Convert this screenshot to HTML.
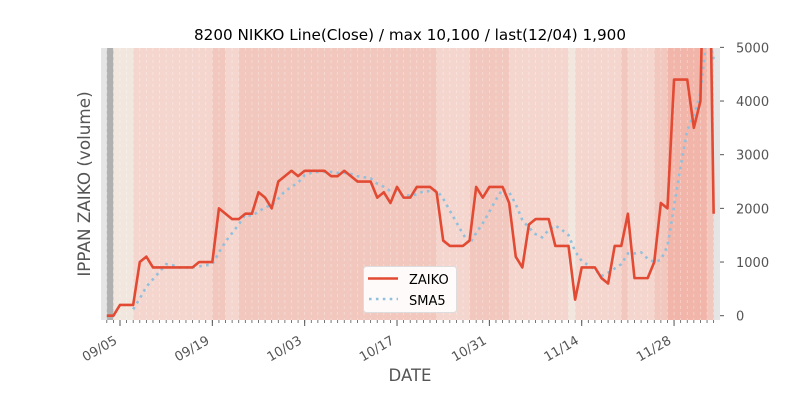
<!DOCTYPE html>
<html><head><meta charset="utf-8"><style>
body{margin:0;background:#fff;}
svg{display:block;font-family:"DejaVu Sans","Liberation Sans",sans-serif;}
</style></head><body>
<svg id="chart" width="800" height="400" viewBox="0 0 800 400" xmlns="http://www.w3.org/2000/svg">
<defs><clipPath id="plotclip"><rect x="101" y="48" width="619" height="272"/></clipPath></defs>
<text x="410" y="40" text-anchor="middle" font-size="15.2" fill="#000">8200 NIKKO Line(Close) / max 10,100 / last(12/04) 1,900</text>
<rect x="101" y="48" width="619" height="272" fill="#e5e5e5"/>
<g id="bands" clip-path="url(#plotclip)"></g>
<g id="grid"></g>
<g id="series" clip-path="url(#plotclip)"></g>
<g id="axes"></g>
<text transform="translate(90,184) rotate(-90)" text-anchor="middle" font-size="16.8" fill="#555">IPPAN ZAIKO (volume)</text>
<text x="410" y="381" text-anchor="middle" font-size="16.5" fill="#555">DATE</text>
<g>
<rect x="363.5" y="266.5" width="93" height="46" rx="3" fill="#fff" fill-opacity="0.9" stroke="#ddd"/>
<line x1="368" y1="278.5" x2="398" y2="278.5" stroke="#e24a33" stroke-width="2.6"/>
<text x="409" y="284" font-size="13" fill="#000">ZAIKO</text>
<line x1="369" y1="299" x2="398" y2="299" stroke="#92c0dc" stroke-width="2.6" stroke-dasharray="2.6,4.3"/>
<text x="409" y="305" font-size="13" fill="#000">SMA5</text>
</g>
</svg>
<script>
const startDate = [9, 3];
const zaiko = [0,0,200,200,200,1000,1100,900,900,900,900,900,900,900,1000,1000,1000,2000,1900,1800,1800,1900,1900,2300,2200,2000,2500,2600,2700,2600,2700,2700,2700,2700,2600,2600,2700,2600,2500,2500,2500,2200,2300,2100,2400,2200,2200,2400,2400,2400,2300,1400,1300,1300,1300,1400,2400,2200,2400,2400,2400,2100,1100,900,1700,1800,1800,1800,1300,1300,1300,300,900,900,900,700,600,1300,1300,1900,700,700,700,1000,2100,2000,4400,4400,4400,3500,4000,10100,1900];
const bandLevels = [4,0,0,0,1,1,1,1,1,1,1,1,1,1,1,1,2,2,1,1,2,2,2,2,2,2,2,2,2,2,2,2,2,2,2,2,2,2,2,2,2,2,2,2,2,2,2,2,2,2,1,1,1,1,1,2,2,2,2,2,2,1,1,1,1,1,1,1,1,1,0,1,1,1,1,1,1,1,2,1,1,1,1,2,2,3,3,3,3,3,3,2];
const yTicks = [0,1000,2000,3000,4000,5000];
const xTickLabels = ["09/05","09/19","10/03","10/17","10/31","11/14","11/28"];
const xTickIdx = [2,16,30,44,58,72,86];

const NS="http://www.w3.org/2000/svg";
const X0=106.8, DX=6.596, Y0=315.7, YK=0.05367;
function xs(i){return X0+DX*i;}
function ys(v){return Y0-v*YK;}
function mk(tag,attrs,parent){const e=document.createElementNS(NS,tag);for(const k in attrs)e.setAttribute(k,attrs[k]);parent.appendChild(e);return e;}
const bandColors=["#f1e7df","#f5d6ce","#f1c7be","#f2b5aa","#b0b0b0"];
const bands=document.getElementById('bands');
bandLevels.forEach((lv,i)=>{
  const r=mk('rect',{x:xs(i),y:48,width:DX+0.3,height:272,fill:bandColors[lv]},bands);
  
  
});
const grid=document.getElementById('grid');
for(let i=0;i<zaiko.length;i++){
  const l=mk('line',{x1:xs(i),y1:48,x2:xs(i),y2:320,stroke:"#fff","stroke-opacity":0.4,"stroke-width":0.8,"stroke-dasharray":"3,3"},grid);
  
  
}
const series=document.getElementById('series');
const sma=[];
for(let i=4;i<zaiko.length;i++){let s=0;for(let j=i-4;j<=i;j++)s+=zaiko[j];sma.push([i,s/5]);}
const sp=mk('polyline',{points:sma.map(p=>xs(p[0])+","+ys(p[1])).join(" "),fill:"none",stroke:"#92c0dc","stroke-width":2.6,"stroke-dasharray":"2.6,4.3"},series);


const zp=mk('polyline',{points:zaiko.map((v,i)=>xs(i)+","+ys(v)).join(" "),fill:"none",stroke:"#e24a33","stroke-width":2.6,"stroke-linejoin":"round"},series);


const axes=document.getElementById('axes');
yTicks.forEach(v=>{
  mk('line',{x1:720,y1:ys(v),x2:724,y2:ys(v),stroke:"#555","stroke-width":1},axes);
  const t=mk('text',{x:736,y:ys(v)+5,"font-size":13,fill:"#555"},axes);
  t.textContent=v;
  
  
});
for(let i=0;i<zaiko.length;i++){
  mk('line',{x1:xs(i),y1:320,x2:xs(i),y2:323,stroke:"#555","stroke-width":0.8},axes);
}
xTickIdx.forEach((idx,k)=>{
  const x=xs(idx);
  mk('line',{x1:x,y1:320,x2:x,y2:326,stroke:"#555","stroke-width":1},axes);
  const t=mk('text',{transform:`translate(${x-2},${343}) rotate(-30)`,"text-anchor":"end","font-size":13,fill:"#555"},axes);
  t.textContent=xTickLabels[k];
  
  
});
</script>
</body></html>
